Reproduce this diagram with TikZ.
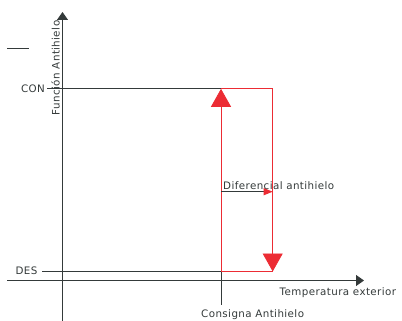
\documentclass[tikz,border=0pt]{standalone}
\usepackage{fontspec}
\newfontfamily\cadfont[LetterSpace=4]{DejaVu Sans}
\usetikzlibrary{arrows.meta}
\definecolor{axisgray}{RGB}{52,58,58}
\definecolor{cadred}{RGB}{236,44,52}
\begin{document}
\begin{tikzpicture}[x=1pt,y=-1pt,
  lbl/.style={font=\cadfont\fontsize{10.3}{12}\selectfont, inner sep=0pt, text=axisgray},
  gline/.style={draw=axisgray, line width=0.9pt},
  rline/.style={draw=cadred, line width=0.8pt},
  axarrow/.style={-{Triangle[length=8pt,width=11pt]}},
  bigarrow/.style={-{Triangle[length=18pt,width=20pt,fill=cadred]}},
  smallarrow/.style={-{Triangle[length=9pt,width=7pt,color=cadred]}}]
\useasboundingbox (0,0) rectangle (402,321);
% coordinates
\coordinate (yb) at (62.5,321);
\coordinate (yt) at (62.5,12);
\coordinate (xl) at (7,280.5);
\coordinate (xr) at (364,280.5);
\coordinate (m1) at (7,48.5);
\coordinate (m2) at (29,48.5);
\coordinate (conL) at (47,88.8);
\coordinate (conR) at (221,88.8);
\coordinate (desL) at (42,271.5);
\coordinate (desR) at (221,271.5);
\coordinate (sp) at (221,305);
\coordinate (rTL) at (221,88.8);
\coordinate (rTR) at (272.7,88.8);
\coordinate (rBL) at (221,271.5);
\coordinate (rBR) at (272.7,271.5);
\coordinate (dL) at (221,191.7);
\coordinate (dR) at (272.7,191.7);
% axes
\draw[gline,axarrow] (yb) -- (yt);
\draw[gline,axarrow] (xl) -- (xr);
\draw[gline] (m1) -- (m2);
\draw[gline] (conL) -- (conR);
\draw[gline] (desL) -- (desR);
\draw[gline] (desR) -- (sp);
% red hysteresis
\draw[rline] (rTL) -- (rTR) -- (rBR);
\draw[rline] (rBL) -- (rBR);
\draw[rline,bigarrow] (rBL) -- (rTL);
\draw[rline,bigarrow] (rTR) -- (rBR);
\draw[gline,smallarrow] (dL) -- (dR);
% labels
\node[lbl] (con) at (33,88.5) {CON};
\node[lbl] (des) at (26.5,271) {DES};
\node[lbl,rotate=90] (fa) at (55.5,68) {Función Antihielo};
\node[lbl,anchor=west] (dif) at (223,185.5) {Diferencial antihielo};
\node[lbl,anchor=west] (te) at (279.5,293) {Temperatura exterior};
\node[lbl,anchor=west] (ca) at (201,315) {Consigna Antihielo};
\end{tikzpicture}
\end{document}
